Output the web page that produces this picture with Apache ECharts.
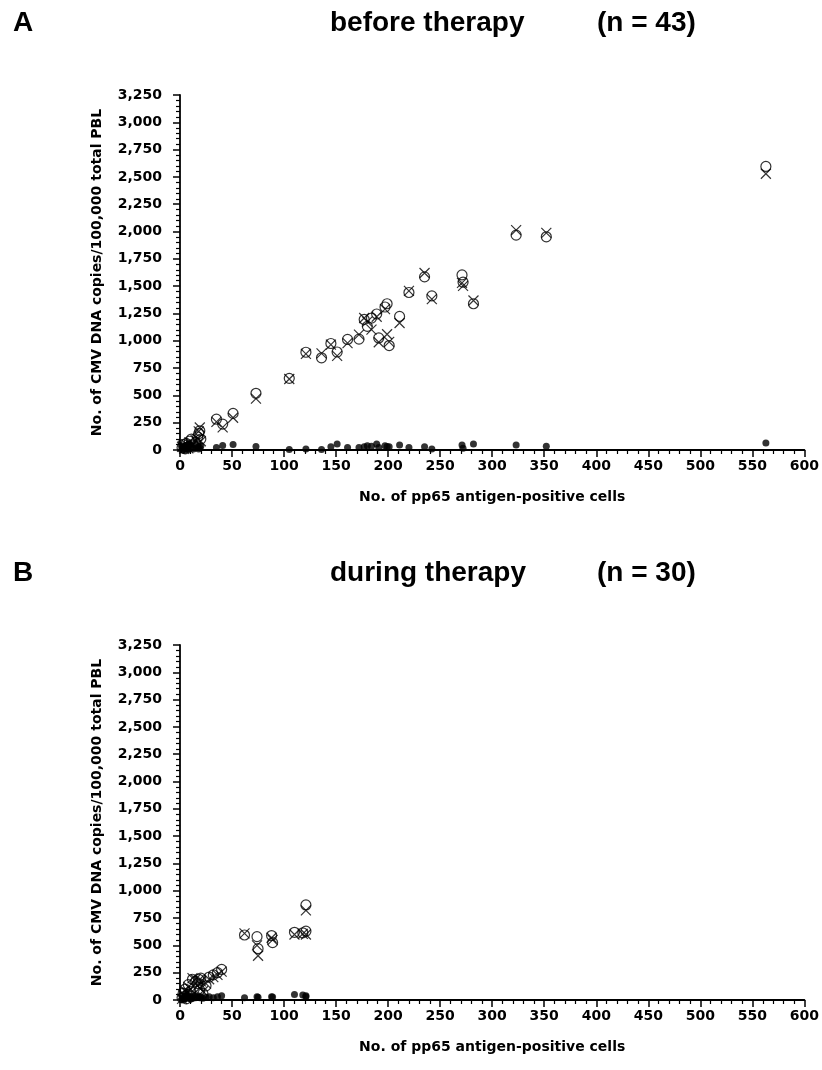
<!DOCTYPE html>
<html>
<head>
<meta charset="utf-8">
<script src="https://cdn.jsdelivr.net/npm/echarts@6/dist/echarts.min.js"></script>
<style>
html,body{margin:0;padding:0;background:#fff;}
#chart{width:822px;height:1070px;}
</style>
</head>
<body>
<div id="chart"></div>
<script>
// Panel A: before therapy (n = 43)
const xA      = [2, 3, 4, 5, 6, 8, 9, 11, 13, 15, 17, 18, 19, 20, 35, 41, 51, 73, 105, 121, 136, 145, 151, 161, 172, 177, 180, 184, 189, 191, 197, 199, 201, 211, 220, 235, 242, 271, 272, 282, 323, 352, 563];
const circleA = [20, 50, 15, 10, 60, 30, 80, 100, 40, 70, 120, 150, 176, 100, 282, 237, 335, 519, 656, 895, 844, 975, 897, 1012, 1015, 1195, 1132, 1208, 1245, 1026, 1309, 1339, 956, 1223, 1442, 1585, 1411, 1603, 1536, 1339, 1967, 1952, 2596];
const crossA  = [30, 40, 10, 20, 50, 15, 70, 60, 50, 90, 100, 170, 206, 80, 258, 207, 295, 471, 650, 880, 885, 965, 862, 978, 1056, 1208, 1175, 1102, 1220, 986, 1290, 1060, 990, 1163, 1457, 1620, 1381, 1530, 1503, 1369, 2013, 1988, 2529];
const dotA    = [10, 30, 15, 5, 40, 20, 50, 30, 10, 40, 25, 10, 20, 35, 24, 42, 51, 33, 5, 10, 5, 30, 55, 24, 24, 30, 39, 35, 55, 24, 39, 33, 30, 45, 24, 30, 9, 45, 15, 55, 45, 34, 64];

// Panel B: during therapy (n = 30)
const xB      = [2, 3, 4, 5, 6, 7, 8, 10, 11, 12, 15, 17, 18, 19, 20, 22, 25, 28, 32, 36, 40, 62, 74, 75, 88, 89, 110, 118, 121, 121];
const circleB = [20, 60, 30, 100, 10, 50, 140, 80, 30, 190, 170, 150, 190, 90, 200, 60, 130, 210, 230, 250, 280, 595, 580, 470, 590, 525, 620, 615, 630, 870];
const crossB  = [10, 50, 40, 80, 20, 70, 120, 100, 40, 200, 190, 130, 180, 110, 170, 80, 150, 190, 210, 230, 260, 610, 500, 405, 570, 550, 600, 605, 600, 820];
const dotB    = [5, 20, 10, 30, 15, 40, 20, 10, 25, 35, 20, 40, 25, 20, 30, 15, 25, 30, 20, 30, 40, 20, 30, 25, 30, 28, 50, 45, 40, 30];

const panelTitles = ['before therapy', 'during therapy'];
const panelCounts = ['(n = 43)', '(n = 30)'];
const panelLetters = ['A', 'B'];
const xName = 'No. of pp65 antigen-positive cells';
const yName = 'No. of CMV DNA copies/100,000 total PBL';

const pairs = (xs, ys) => xs.map((x, i) => [x, ys[i]]);

const tickFont = {fontFamily: 'DejaVu Sans', fontWeight: 'bold', fontSize: 14, color: '#000'};
const grids = [
  {left: 180, top: 95, width: 626, height: 355},
  {left: 180, top: 645, width: 626, height: 355}
];

function makeX(i) {
  return {
    type: 'value', gridIndex: i, min: 0, max: 600, interval: 50,
    name: xName, nameLocation: 'middle', nameGap: 40,
    nameTextStyle: {fontFamily: 'DejaVu Sans', fontWeight: 'bold', fontSize: 14, color: '#000'},
    axisLine: {show: true, onZero: false, lineStyle: {color: '#000', width: 1.8}},
    axisTick: {show: true, inside: false, length: 7, lineStyle: {color: '#000', width: 1.5}},
    minorTick: {show: true, splitNumber: 5, length: 4, lineStyle: {color: '#000', width: 1.2}},
    splitLine: {show: false},
    axisLabel: Object.assign({margin: 9}, tickFont)
  };
}
function makeY(i) {
  return {
    type: 'value', gridIndex: i, min: 0, max: 3250, interval: 250,
    name: yName, nameLocation: 'middle', nameGap: 76,
    nameTextStyle: {fontFamily: 'DejaVu Sans', fontWeight: 'bold', fontSize: 14, color: '#000'},
    axisLine: {show: true, onZero: false, lineStyle: {color: '#000', width: 1.8}},
    axisTick: {show: true, inside: false, length: 7, lineStyle: {color: '#000', width: 1.5}},
    minorTick: {show: true, splitNumber: 5, length: 4, lineStyle: {color: '#000', width: 1.2}},
    splitLine: {show: false},
    axisLabel: Object.assign({margin: 18, formatter: v => v.toLocaleString('en-US')}, tickFont)
  };
}

function seriesFor(i, xs, circ, cross, dot) {
  return [
    {type: 'scatter', xAxisIndex: i, yAxisIndex: i, data: pairs(xs, dot), symbol: 'circle', symbolSize: 7,
     itemStyle: {color: '#000'}, z: 2, silent: true},
    {type: 'scatter', xAxisIndex: i, yAxisIndex: i, data: pairs(xs, cross), symbol: 'path://M0,0L10,10M10,0L0,10', symbolSize: 10,
     itemStyle: {color: 'rgba(0,0,0,0)', borderColor: '#000', borderWidth: 1.2}, z: 3, silent: true},
    {type: 'scatter', xAxisIndex: i, yAxisIndex: i, data: pairs(xs, circ), symbol: 'circle', symbolSize: 10,
     itemStyle: {color: 'rgba(0,0,0,0)', borderColor: '#000', borderWidth: 1.2}, z: 4, silent: true}
  ];
}

const offsets = [0, 550];
const graphics = [];
offsets.forEach((dy, i) => {
  const big = {fontFamily: 'Liberation Sans', fontWeight: 'bold', fontSize: 28, fill: '#000'};
  graphics.push({type: 'text', left: 13, top: dy + 9, style: Object.assign({text: panelLetters[i]}, big)});
  graphics.push({type: 'text', left: 330, top: dy + 9, style: Object.assign({text: panelTitles[i]}, big)});
  graphics.push({type: 'text', left: 597, top: dy + 9, style: Object.assign({text: panelCounts[i]}, big)});
});

const chart = echarts.init(document.getElementById('chart'), null, {renderer: 'canvas'});
chart.setOption({
  animation: false,
  backgroundColor: '#fff',
  grid: grids,
  xAxis: [makeX(0), makeX(1)],
  yAxis: [makeY(0), makeY(1)],
  series: [].concat(seriesFor(0, xA, circleA, crossA, dotA), seriesFor(1, xB, circleB, crossB, dotB)),
  graphic: graphics
});
</script>
</body>
</html>
